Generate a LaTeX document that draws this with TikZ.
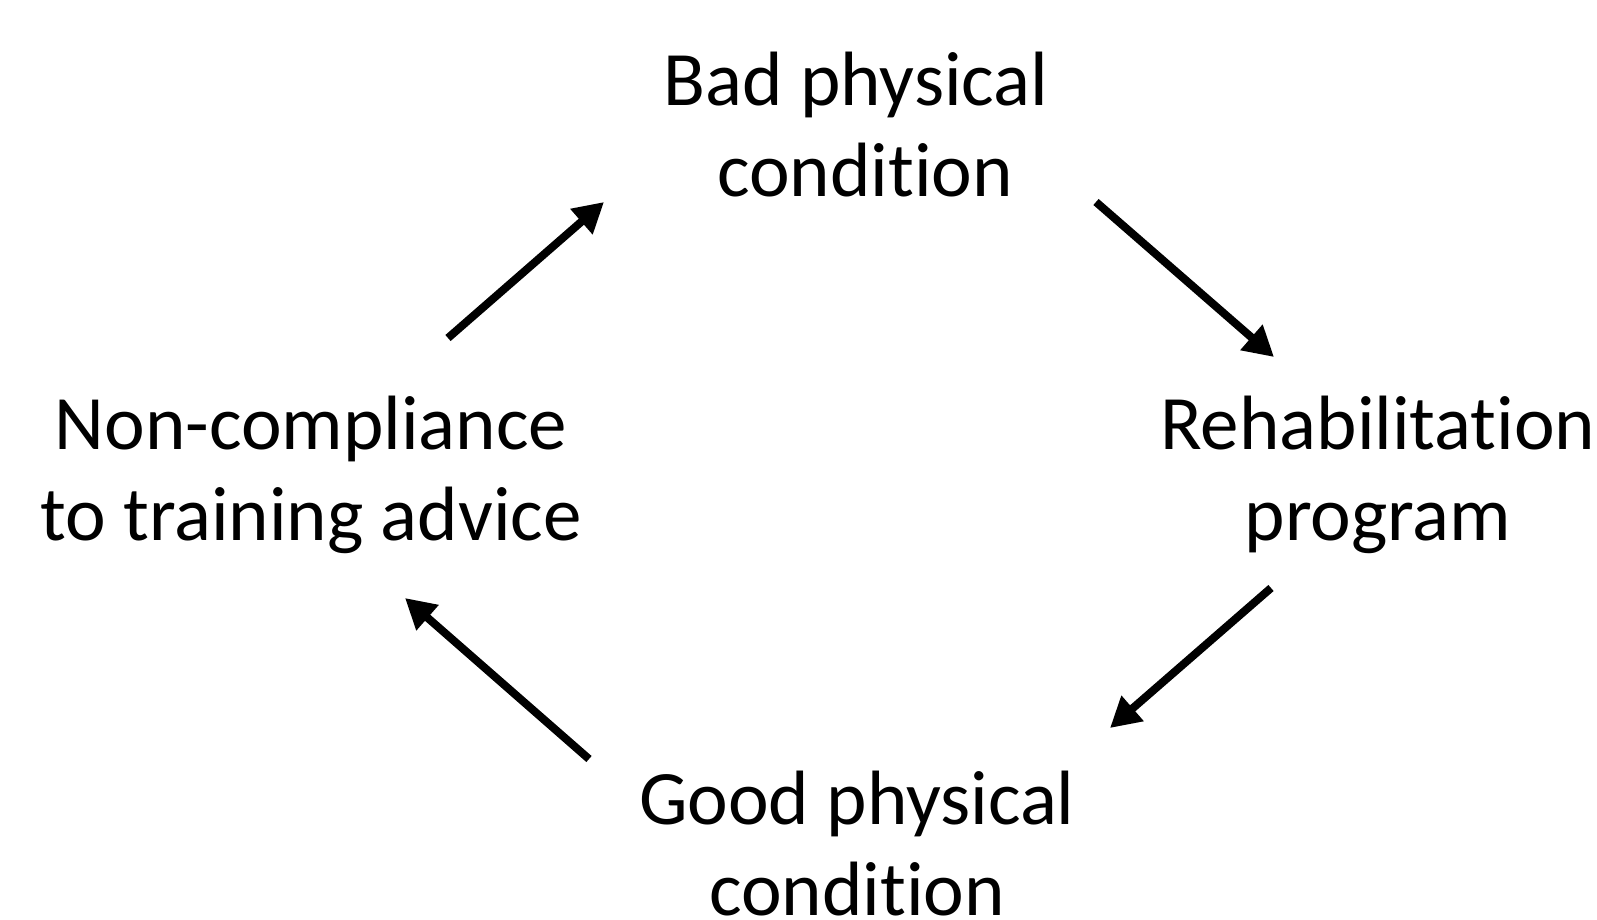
\documentclass[tikz,border=0pt]{standalone}
\usepackage{fontspec}
\setmainfont[Ligatures=NoCommon]{Carlito}
\usetikzlibrary{arrows.meta}
\begin{document}
\begin{tikzpicture}[x=1pt,y=-1pt,
  lbl/.style={align=center, inner sep=0pt, anchor=base, font=\fontsize{77}{91}\selectfont},
  conn/.style={line width=8pt, -{Triangle[length=30pt,width=32pt]}}]
\useasboundingbox (0,0) rectangle (1597,919);
\node[lbl] (bad) at (856,196) {Bad physical\\\hspace*{18pt}condition};
\node[lbl] (rehab) at (1378,540) {Rehabilitation\\program};
\node[lbl] (good) at (857,915) {Good physical\\condition};
\node[lbl] (non) at (311,540) {Non-compliance\\to training advice};
\coordinate (a1s) at (448,338); \coordinate (a1e) at (604,202);
\coordinate (a2s) at (1096,202); \coordinate (a2e) at (1274,357);
\coordinate (a3s) at (1271,588); \coordinate (a3e) at (1110,728);
\coordinate (a4s) at (589,759); \coordinate (a4e) at (405,598);
\draw[conn] (a1s) -- (a1e);
\draw[conn] (a2s) -- (a2e);
\draw[conn] (a3s) -- (a3e);
\draw[conn] (a4s) -- (a4e);
\end{tikzpicture}
\end{document}
